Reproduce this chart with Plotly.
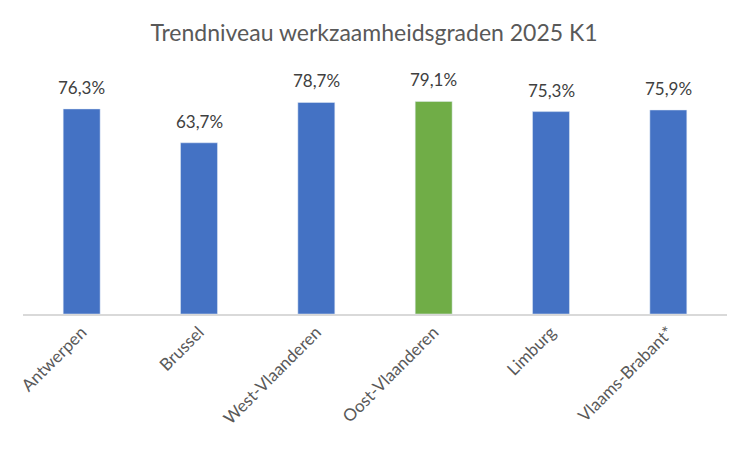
import plotly.graph_objects as go

# data
regions = ['Antwerpen', 'Brussel', 'West-Vlaanderen', 'Oost-Vlaanderen', 'Limburg', 'Vlaams-Brabant*']
rates = [76.3, 63.7, 78.7, 79.1, 75.3, 75.9]
highlight = 'Oost-Vlaanderen'

bar_colors = ['#70AD47' if r == highlight else '#4472C4' for r in regions]

fig = go.Figure(go.Bar(
    x=regions,
    y=rates,
    marker_color=bar_colors,
))

# value labels above the bars
for reg, val in zip(regions, rates):
    fig.add_annotation(
        x=reg, y=val, text=f'{val:.1f}%'.replace('.', ','),
        showarrow=False, yanchor='bottom', yshift=9,
        font=dict(size=17, color='#404040'),
    )

# page body adds ~8px offset, margins are shifted to compensate
fig.update_layout(
    width=750, height=450,
    title=dict(text='Trendniveau werkzaamheidsgraden 2025 K1', x=0.488, xanchor='center',
               y=0.944, yanchor='middle', font=dict(size=23, color='#595959')),
    font=dict(family='Lato, Open Sans, sans-serif', color='#595959'),
    bargap=0.685,
    margin=dict(l=15, r=31, t=52, b=144),
    paper_bgcolor='white',
    plot_bgcolor='white',
    showlegend=False,
)
fig.update_xaxes(tickangle=-45, tickfont=dict(size=17, color='#595959'),
                 showline=True, linecolor='#D9D9D9', linewidth=1.5, ticks='',
                 automargin=False)
fig.update_yaxes(range=[0, 94.5], visible=False)

fig.write_html('out.html')
